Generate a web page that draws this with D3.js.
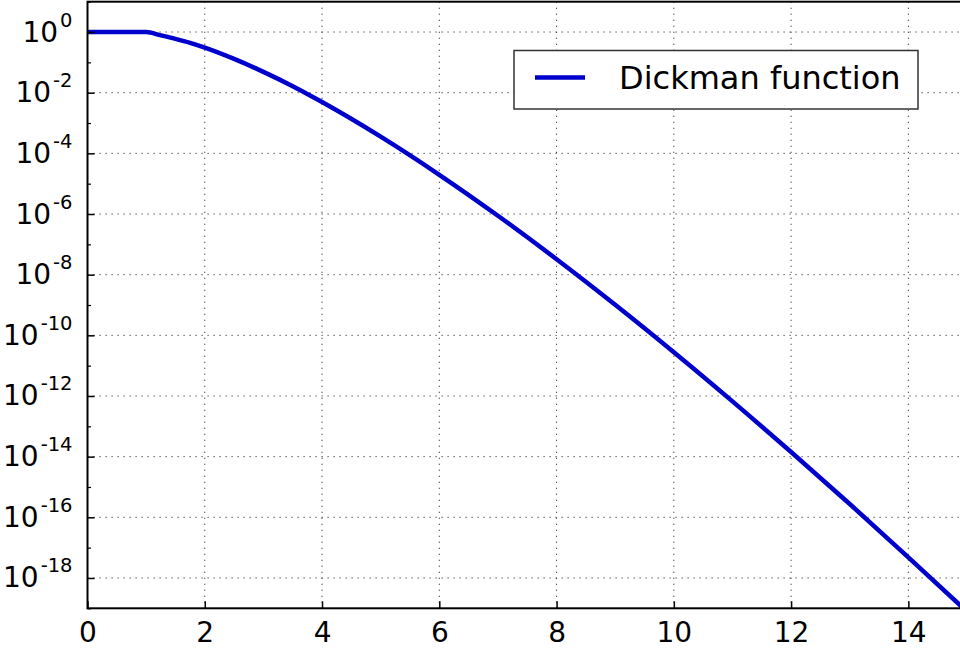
<!DOCTYPE html>
<html>
<head>
<meta charset="utf-8">
<script src="https://cdn.jsdelivr.net/npm/d3@7"></script>
<style>
  body { margin: 0; background: #fff; }
  svg { display: block; }
  svg text { font-family: 'DejaVu Sans', sans-serif; }
</style>
</head>
<body>
<div id="chart"></div>
<script>
// Dickman rho(u) (log scale)
const uValues = [0, 1, 1.25, 1.5, 1.75, 2, 2.5, 3, 3.5, 4, 5, 6, 7, 8, 9, 10, 11, 12, 13, 14, 15];
const rhoValues = [1, 1, 0.777, 0.5945, 0.4404, 0.3069, 0.1303, 0.04861, 0.01637, 0.004911,
  3.547e-4, 1.965e-5, 8.746e-7, 3.232e-8, 1.016e-9, 2.770e-11, 6.65e-13, 1.42e-14, 2.75e-16, 4.8e-18, 7.8e-20];
const xTicks = [0, 2, 4, 6, 8, 10, 12, 14];
const yMajorExp = [0, -2, -4, -6, -8, -10, -12, -14, -16, -18];
const yMinorExp = [1, -1, -3, -5, -7, -9, -11, -13, -15, -17, -19];
const seriesName = 'Dickman function';

const width = 960;
const height = 654;
const margin = { t: 1.7, l: 87.5, b: 608.3, r: 967 };
const lineColor = '#0000cc';

const x = d3.scaleLinear().domain([0, 15]).range([margin.l, margin.r]);
const y = d3.scaleLog().domain([1e-19, 1e1]).range([margin.b, margin.t]);

const svg = d3.select('#chart').append('svg')
  .attr('width', width)
  .attr('height', height);

svg.append('defs').append('clipPath')
  .attr('id', 'plot-clip')
  .append('rect')
  .attr('x', margin.l)
  .attr('y', margin.t)
  .attr('width', margin.r - margin.l)
  .attr('height', margin.b - margin.t);

// grid
const grid = svg.append('g').attr('class', 'grid');
grid.selectAll('.vgrid')
  .data(xTicks.filter(d => d > 0))
  .enter().append('line')
  .attr('x1', d => x(d)).attr('x2', d => x(d))
  .attr('y1', margin.t).attr('y2', margin.b)
  .style('stroke', '#333')
  .style('stroke-width', 1)
  .style('stroke-dasharray', '1.2,4.8');

grid.selectAll('.hgrid')
  .data(yMajorExp)
  .enter().append('line')
  .attr('x1', margin.l).attr('x2', margin.r)
  .attr('y1', d => y(Math.pow(10, d))).attr('y2', d => y(Math.pow(10, d)))
  .style('stroke', '#333')
  .style('stroke-width', 1)
  .style('stroke-dasharray', '1.2,4.8');

// curve
const data = uValues.map((u, i) => ({ u, rho: rhoValues[i] }));
const line = d3.line()
  .x(d => x(d.u))
  .y(d => y(d.rho))
  .curve(d3.curveMonotoneX);

svg.append('path')
  .datum(data)
  .attr('clip-path', 'url(#plot-clip)')
  .attr('d', line)
  .style('fill', 'none')
  .style('stroke', lineColor)
  .style('stroke-width', 4.5)
  .style('stroke-linejoin', 'round');

// axes (ticks inward)
const xAxis = d3.axisBottom(x)
  .tickValues(xTicks)
  .tickSize(-7)
  .tickFormat(d3.format('d'));

const xG = svg.append('g')
  .attr('transform', `translate(0, ${margin.b})`)
  .call(xAxis)
  .attr('font-size', 28)
  .attr('font-family', 'DejaVu Sans');
xG.select('.domain').remove();
xG.selectAll('line').style('stroke', '#000').style('stroke-width', 1.5);
xG.selectAll('text')
  .attr('y', 33.7)
  .attr('dy', null)
  .attr('fill', '#000');

const yAxis = d3.axisLeft(y)
  .tickValues(yMajorExp.map(e => Math.pow(10, e)))
  .tickSize(-7)
  .tickFormat('');

const yG = svg.append('g')
  .attr('transform', `translate(${margin.l}, 0)`)
  .call(yAxis)
  .attr('font-size', 28)
  .attr('font-family', 'DejaVu Sans');
yG.select('.domain').remove();
yG.selectAll('line').style('stroke', '#000').style('stroke-width', 1.5);

yG.selectAll('.tick').each(function (d) {
  const exp = Math.round(Math.log10(d));
  const t = d3.select(this).select('text')
    .attr('x', -15)
    .attr('dy', null)
    .attr('y', 9)
    .attr('text-anchor', 'end')
    .attr('fill', '#000');
  t.append('tspan').text('10');
  t.append('tspan')
    .attr('dx', 2)
    .attr('dy', -15)
    .attr('font-size', 19.5)
    .text(exp);
});

const yMinor = d3.axisLeft(y)
  .tickValues(yMinorExp.map(e => Math.pow(10, e)))
  .tickSize(-3.5)
  .tickFormat('');
const yMinorG = svg.append('g')
  .attr('transform', `translate(${margin.l}, 0)`)
  .call(yMinor);
yMinorG.select('.domain').remove();
yMinorG.selectAll('line').style('stroke', '#000').style('stroke-width', 1.2);

// frame
svg.append('rect')
  .attr('x', margin.l)
  .attr('y', margin.t)
  .attr('width', margin.r - margin.l)
  .attr('height', margin.b - margin.t)
  .style('fill', 'none')
  .style('stroke', '#000')
  .style('stroke-width', 2);

// legend
const legend = svg.append('g').attr('class', 'legend');
legend.append('rect')
  .attr('x', 514)
  .attr('y', 50.5)
  .attr('width', 404)
  .attr('height', 58.5)
  .style('fill', '#fff')
  .style('stroke', '#333')
  .style('stroke-width', 1.5);
legend.append('line')
  .attr('x1', 535).attr('x2', 585)
  .attr('y1', 77.5).attr('y2', 77.5)
  .style('stroke', lineColor)
  .style('stroke-width', 4.5);
legend.append('text')
  .attr('x', 619)
  .attr('y', 89)
  .attr('font-size', 32)
  .attr('fill', '#000')
  .text(seriesName);
</script>
</body>
</html>
